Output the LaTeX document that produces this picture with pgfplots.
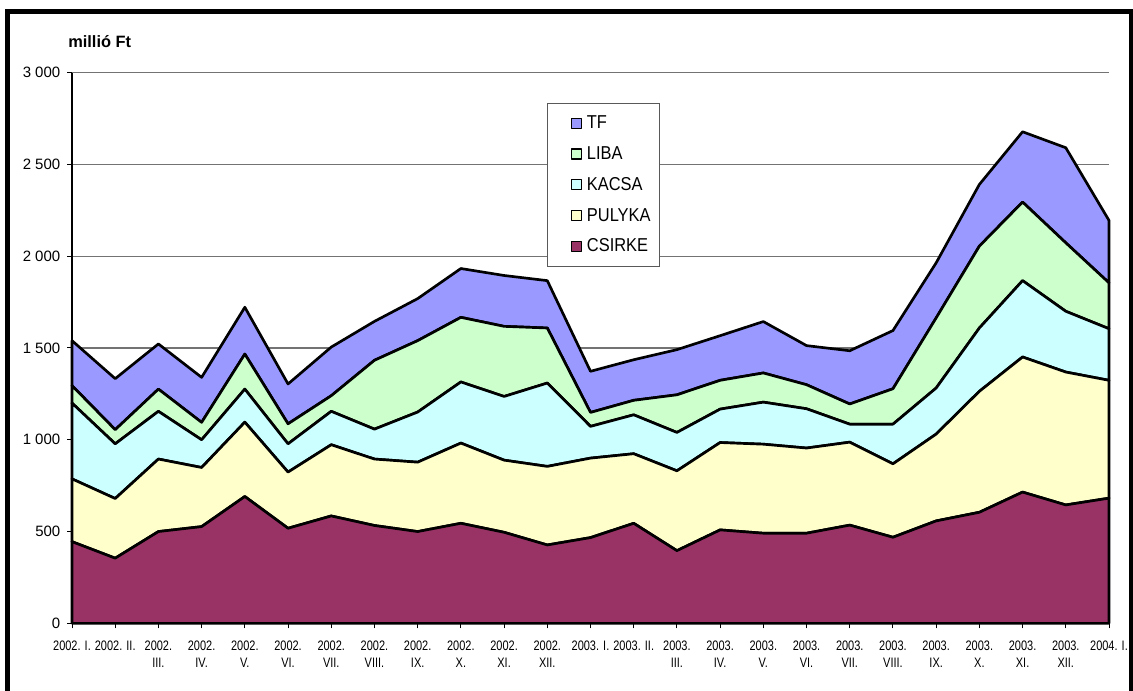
\documentclass[border=0pt]{standalone}
\usepackage{fontspec}
\setmainfont{Liberation Sans}
\newfontfamily\xfont[FakeStretch=0.8]{Liberation Sans}
\newfontfamily\legfont[FakeStretch=0.88]{Liberation Sans}
\usepackage{pgfplots}
\usepackage{pgfplotstable}
\pgfplotsset{compat=1.18}
\definecolor{csirke}{HTML}{993366}
\definecolor{pulyka}{HTML}{FFFFCC}
\definecolor{kacsa}{HTML}{CCFFFF}
\definecolor{liba}{HTML}{CCFFCC}
\definecolor{tf}{HTML}{9999FF}
\pgfplotstableread{
x C P K L T
0 445 342 413 95 245
1 355 325 298 77 278
2 500 395 260 121 246
3 527 322 151 95 245
4 691 405 180 191 255
5 518 306 154 109 217
6 585 388 182 85 265
7 533 362 163 375 212
8 500 378 273 389 229
9 545 437 333 352 266
10 496 393 347 382 277
11 427 428 454 300 258
12 467 433 173 76 224
13 545 379 212 79 221
14 396 435 209 205 246
15 509 476 182 157 243
16 491 485 229 159 280
17 491 464 214 131 213
18 535 452 98 110 290
19 469 400 216 193 317
20 558 473 251 382 300
21 605 659 345 446 336
22 715 736 416 428 383
23 645 724 331 373 518
24 682 642 281 250 340
}\data
\begin{document}
\begin{tikzpicture}
\useasboundingbox (0pt,0pt) rectangle (849.75pt,517.5pt);
\draw[line width=3.75pt] (5.625pt,-10pt) -- (5.625pt,508.9pt) -- (848.25pt,508.9pt) -- (848.25pt,-10pt);
\node[anchor=base west, font=\bfseries\fontsize{12.3}{14}\selectfont, inner sep=0pt] at (51pt,481.5pt) {millió Ft};
\begin{axis}[
  at={(54pt,50pt)}, anchor=south west,
  scale only axis, width=777.75pt, height=413pt,
  xmin=0, xmax=24, ymin=0, ymax=3000,
  axis lines*=left,
  axis line style={black, line width=0.8pt},
  tick align=outside, major tick length=3.75pt,
  tick style={black, line width=0.75pt},
  xtick={0,...,24},
  xticklabels={2002. I.,2002. II.,2002.\\III.,2002.\\IV.,2002.\\V.,2002.\\VI.,2002.\\VII.,2002.\\VIII.,2002.\\IX.,2002.\\X.,2002.\\XI.,2002.\\XII.,2003. I.,2003. II.,2003.\\III.,2003.\\IV.,2003.\\V.,2003.\\VI.,2003.\\VII.,2003.\\VIII.,2003.\\IX.,2003.\\X.,2003.\\XI.,2003.\\XII.,2004. I.},
  xticklabel style={font=\xfont\fontsize{10.3}{12.5}\selectfont, align=center, yshift=-6pt},
  ytick={0,500,...,3000},
  yticklabels={0,500,{1 000},{1 500},{2 000},{2 500},{3 000}},
  yticklabel style={font=\fontsize{11.25}{13}\selectfont, xshift=-1.5pt},
  ymajorgrids, grid style={black!55, line width=1pt},
  stack plots=y, clip=false,
  reverse legend,
  legend style={at={(rel axis cs:0.4585,0.9455)}, anchor=north west, fill=white,
    draw=black!65, line width=0.75pt, inner xsep=4.5pt, inner ysep=7.5pt, row sep=7.9pt,
    font=\legfont\fontsize{14}{16}\selectfont,
    nodes={inner xsep=2.25pt, inner ysep=2pt}, cells={anchor=west}},
  legend image code/.code={\path (-12pt,0pt); \draw[#1, draw=black, line width=1pt] (0pt,-3.75pt) rectangle (7.5pt,3.75pt); \path (8.5pt,0pt);},
  every axis plot/.append style={draw=black, line width=2pt, line join=round},
]
\addplot[fill=csirke] table[x=x,y=C]{\data} \closedcycle;
\addlegendentry{CSIRKE}
\addplot[fill=pulyka] table[x=x,y=P]{\data} \closedcycle;
\addlegendentry{PULYKA}
\addplot[fill=kacsa] table[x=x,y=K]{\data} \closedcycle;
\addlegendentry{KACSA}
\addplot[fill=liba] table[x=x,y=L]{\data} \closedcycle;
\addlegendentry{LIBA}
\addplot[fill=tf] table[x=x,y=T]{\data} \closedcycle;
\addlegendentry{TF}
\end{axis}
\end{tikzpicture}
\end{document}
